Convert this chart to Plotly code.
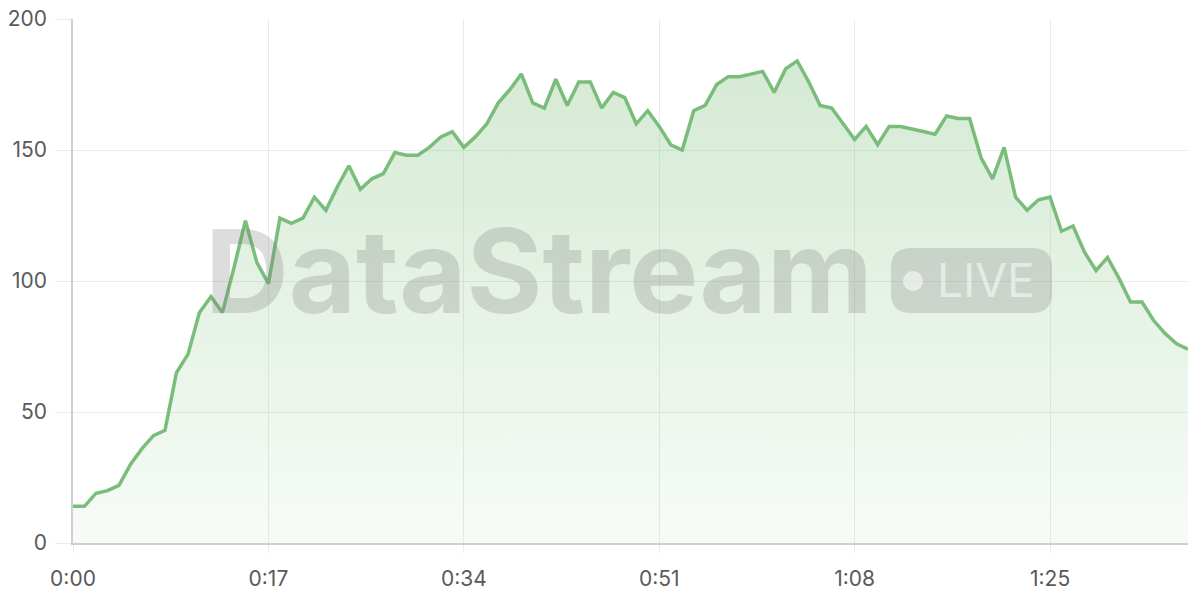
import plotly.graph_objects as go

seconds = list(range(98))
values = [14, 14, 19, 20, 22, 30, 36, 41, 43, 65,
          72, 88, 94, 88, 105, 123, 107, 99, 124, 122,
          124, 132, 127, 136, 144, 135, 139, 141, 149, 148,
          148, 151, 155, 157, 151, 155, 160, 168, 173, 179,
          168, 166, 177, 167, 176, 176, 166, 172, 170, 160,
          165, 159, 152, 150, 165, 167, 175, 178, 178, 179,
          180, 172, 181, 184, 176, 167, 166, 160, 154, 159,
          152, 159, 159, 158, 157, 156, 163, 162, 162, 147,
          139, 151, 132, 127, 131, 132, 119, 121, 111, 104,
          109, 101, 92, 92, 85, 80, 76, 74]
x_tick_vals = [0, 17, 34, 51, 68, 85]
x_tick_text = ["0:00", "0:17", "0:34", "0:51", "1:08", "1:25"]
y_tick_vals = [0, 50, 100, 150, 200]

LINE = "rgb(122,189,122)"
GRID = "#ebebeb"
AXIS = "#cfcfcf"
FONT = "Inter, Liberation Sans, sans-serif"

fig = go.Figure()
fig.add_trace(go.Scatter(
    x=seconds, y=values, mode="lines",
    line=dict(color=LINE, width=3.5),
    fill="tozeroy",
    fillgradient=dict(type="vertical",
                      colorscale=[[0, "rgba(122,189,122,0.06)"],
                                  [1, "rgba(122,189,122,0.32)"]]),
    hoverinfo="skip", showlegend=False,
))

W, H = 1200, 600
L, R, T, B = 73, 12, 19, 57
pw, ph = W - L - R, H - T - B

def px(x):
    return (x - L) / pw

def py(y):
    return (H - B - y) / ph

# LIVE badge (rounded rectangle)
x0, x1, y0, y1, r = px(891), px(1052), py(313), py(248), 20
rx, ry = r / pw, r / ph
path = (f"M {x0+rx},{y0} L {x1-rx},{y0} Q {x1},{y0} {x1},{y0+ry} "
        f"L {x1},{y1-ry} Q {x1},{y1} {x1-rx},{y1} L {x0+rx},{y1} "
        f"Q {x0},{y1} {x0},{y1-ry} L {x0},{y0+ry} Q {x0},{y0} {x0+rx},{y0} Z")
shapes = [
    dict(type="path", xref="paper", yref="paper", path=path,
         fillcolor="rgba(125,125,125,0.25)", line=dict(width=0), layer="above"),
    dict(type="circle", xref="paper", yref="paper",
         x0=px(903), x1=px(923), y0=py(291), y1=py(271),
         fillcolor="rgba(255,255,255,0.55)", line=dict(width=0), layer="above"),
]

annotations = [
    dict(text="<b>DataStream</b>", xref="paper", yref="paper",
         x=px(539), y=py(271), xanchor="center", yanchor="middle",
         showarrow=False,
         font=dict(family=FONT, size=116, color="rgba(125,125,125,0.26)")),
    dict(text="LIVE", xref="paper", yref="paper",
         x=px(986), y=py(280), xanchor="center", yanchor="middle",
         showarrow=False,
         font=dict(family=FONT, size=46, color="rgba(255,255,255,0.55)")),
]

fig.update_layout(
    width=W, height=H,
    margin=dict(l=L, r=R, t=T, b=B, autoexpand=False),
    paper_bgcolor="white", plot_bgcolor="white",
    font=dict(family=FONT, size=21, color="#5a5a5a"),
    shapes=shapes, annotations=annotations,
    xaxis=dict(range=[0, 97], tickvals=x_tick_vals, ticktext=x_tick_text,
               showgrid=True, gridcolor=GRID, gridwidth=1,
               showline=True, linecolor=AXIS, linewidth=1.5,
               ticks="outside", ticklen=8, tickcolor=GRID,
               ticklabelstandoff=8, automargin=False,
               zeroline=False, fixedrange=True),
    yaxis=dict(range=[0, 200], tickvals=y_tick_vals,
               showgrid=True, gridcolor=GRID, gridwidth=1,
               showline=True, linecolor=AXIS, linewidth=1.5,
               ticks="outside", ticklen=16, tickcolor=GRID,
               ticklabelstandoff=4, automargin=False,
               zeroline=False, fixedrange=True),
)

# the page body has a default 8px margin; remove it so the figure sits at the window origin
fig.write_html("out.html", config={"displayModeBar": False},
               post_script="document.body.style.margin='0px';")
